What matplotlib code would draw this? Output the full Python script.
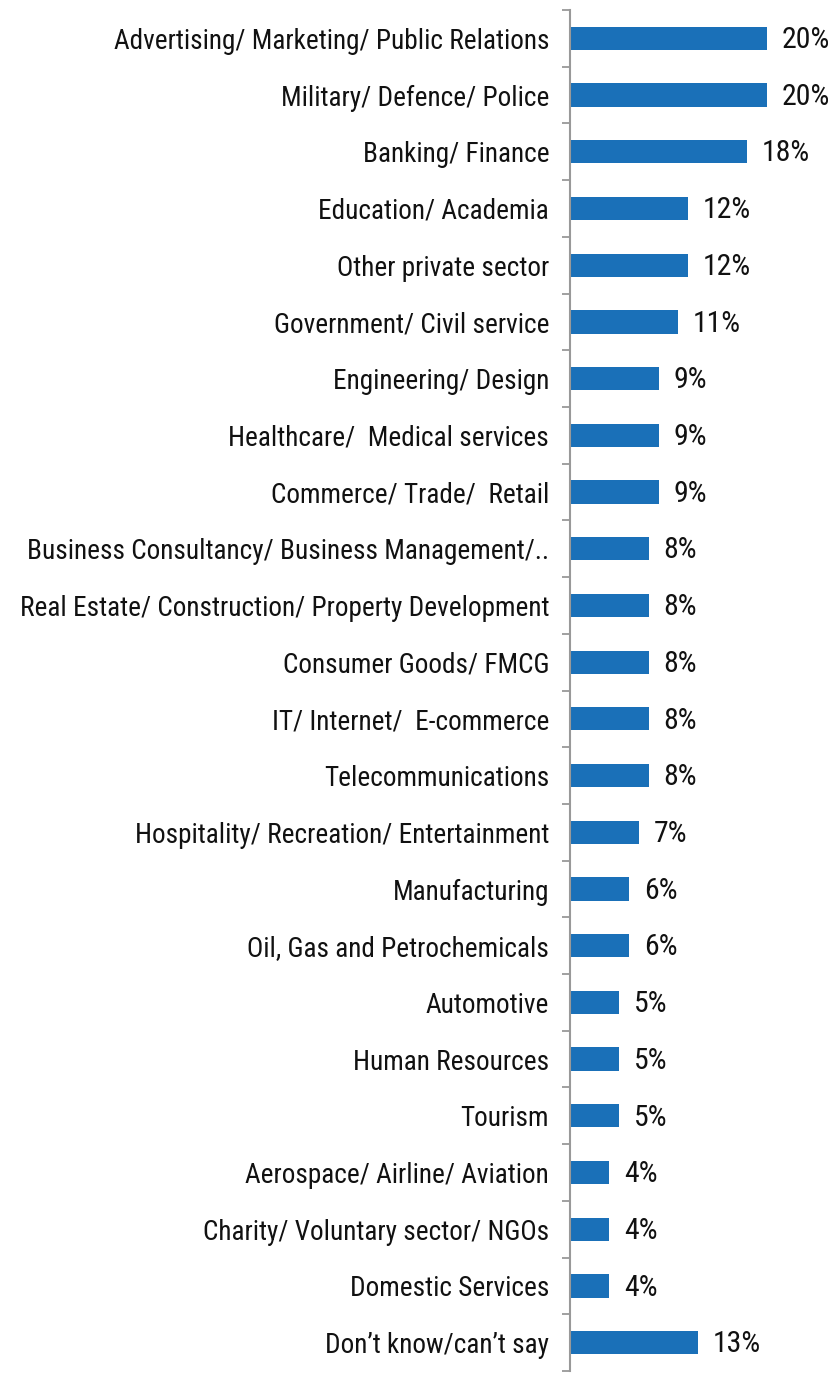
import matplotlib.pyplot as plt
import numpy as np
from matplotlib.ticker import FixedLocator

plt.rcParams["font.family"] = ["Roboto Condensed", "Liberation Sans", "DejaVu Sans"]

sectors = [
    "Advertising/ Marketing/ Public Relations",
    "Military/ Defence/ Police",
    "Banking/ Finance",
    "Education/ Academia",
    "Other private sector",
    "Government/ Civil service",
    "Engineering/ Design",
    "Healthcare/  Medical services",
    "Commerce/ Trade/  Retail",
    "Business Consultancy/ Business Management/..",
    "Real Estate/ Construction/ Property Development",
    "Consumer Goods/ FMCG",
    "IT/ Internet/  E-commerce",
    "Telecommunications",
    "Hospitality/ Recreation/ Entertainment",
    "Manufacturing",
    "Oil, Gas and Petrochemicals",
    "Automotive",
    "Human Resources",
    "Tourism",
    "Aerospace/ Airline/ Aviation",
    "Charity/ Voluntary sector/ NGOs",
    "Domestic Services",
    "Don\u2019t know/can\u2019t say",
]
shares = [20, 20, 18, 12, 12, 11, 9, 9, 9, 8, 8, 8, 8, 8, 7, 6, 6, 5, 5, 5, 4, 4, 4, 13]

fig = plt.figure(figsize=(8.32, 13.73), dpi=100)
ax = fig.add_axes([570 / 832, 2 / 1373, 262 / 832, 1361 / 1373])

y = np.arange(len(sectors))
bars = ax.barh(y, shares, height=0.41, color="#1a70b8")

# percentage labels just past the bar ends
for bar, v in zip(bars, shares):
    ax.text(bar.get_width() + 1.5, bar.get_y() + bar.get_height() / 2 + 0.03,
            f"{v}%", va="center", ha="left", fontsize=21.5, color="#111111")

ax.set_xlim(0, 26.6)
ax.set_ylim(len(sectors) - 0.5, -0.5)
ax.set_yticks(y)
ax.set_yticklabels(sectors, fontsize=19.6, color="#111111")
ax.yaxis.set_minor_locator(FixedLocator(np.arange(-0.5, len(sectors), 1)))
ax.tick_params(axis="y", which="major", length=0, pad=15)
ax.tick_params(axis="y", which="minor", length=6, width=1.3, color="#999999")
ax.set_xticks([])

for side in ["top", "right", "bottom"]:
    ax.spines[side].set_visible(False)
ax.spines["left"].set_color("#999999")
ax.spines["left"].set_linewidth(1.5)

fig.savefig("out.png", dpi=100)
